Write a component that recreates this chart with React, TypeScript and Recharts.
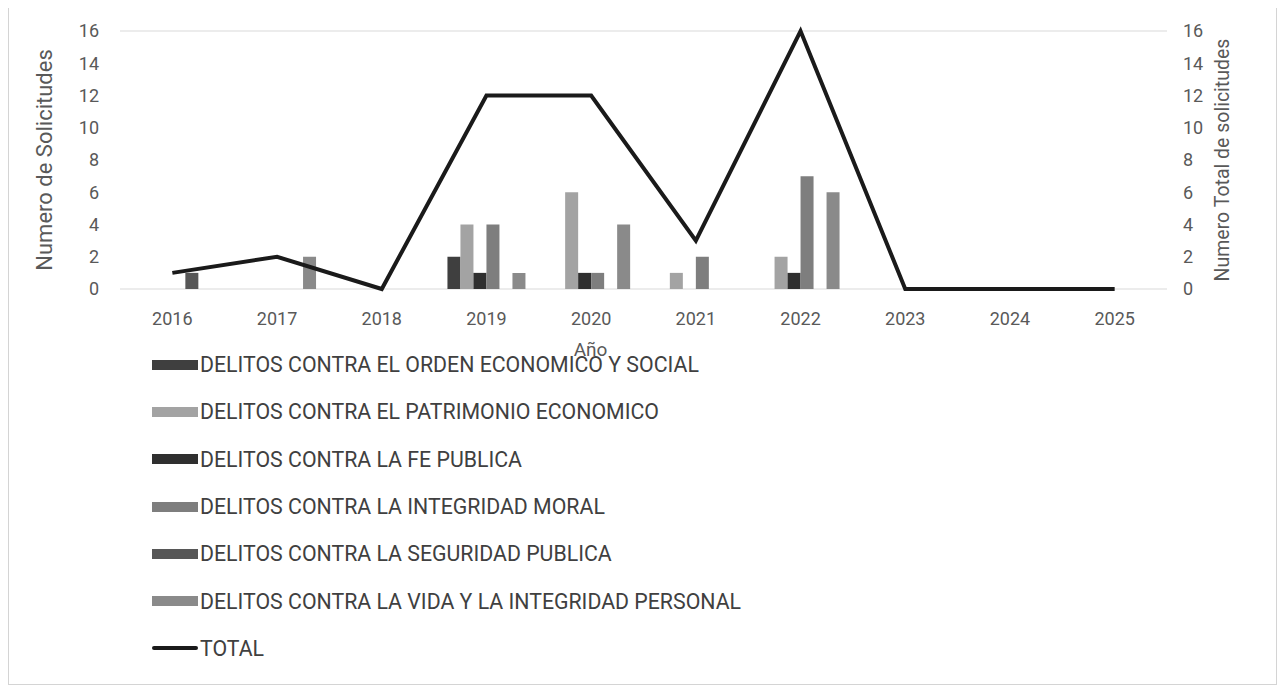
import React from "react";
import {
  ComposedChart, Bar, Line, XAxis, YAxis, CartesianGrid, Legend,
} from "recharts";

const years = ["2016", "2017", "2018", "2019", "2020", "2021", "2022", "2023", "2024", "2025"];

const ordenEconomico = [0, 0, 0, 2, 0, 0, 0, 0, 0, 0];
const patrimonio = [0, 0, 0, 4, 6, 1, 2, 0, 0, 0];
const fePublica = [0, 0, 0, 1, 1, 0, 1, 0, 0, 0];
const integridadMoral = [0, 0, 0, 4, 1, 2, 7, 0, 0, 0];
const seguridadPublica = [1, 0, 0, 0, 0, 0, 0, 0, 0, 0];
const vidaIntegridad = [0, 2, 0, 1, 4, 0, 6, 0, 0, 0];
const total = [1, 2, 0, 12, 12, 3, 16, 0, 0, 0];

const yTicks = [0, 2, 4, 6, 8, 10, 12, 14, 16];

const series = [
  { key: "orden", name: "DELITOS CONTRA EL ORDEN ECONOMICO Y SOCIAL", values: ordenEconomico, color: "#3f3f3f" },
  { key: "patrimonio", name: "DELITOS CONTRA EL PATRIMONIO ECONOMICO", values: patrimonio, color: "#a3a3a3" },
  { key: "fe", name: "DELITOS CONTRA LA FE PUBLICA", values: fePublica, color: "#2f2f2f" },
  { key: "moral", name: "DELITOS CONTRA LA INTEGRIDAD MORAL", values: integridadMoral, color: "#7e7e7e" },
  { key: "seguridad", name: "DELITOS CONTRA LA SEGURIDAD PUBLICA", values: seguridadPublica, color: "#575757" },
  { key: "vida", name: "DELITOS CONTRA LA VIDA Y LA INTEGRIDAD PERSONAL", values: vidaIntegridad, color: "#8a8a8a" },
];

const data = years.map((year, i) => {
  const row: Record<string, string | number> = { year, total: total[i] };
  series.forEach((s) => { row[s.key] = s.values[i]; });
  return row;
});

const tickStyle = { fontSize: 18, fill: "#595959" };

function LegendList({ payload }: any) {
  return (
    <div style={{ height: 331 }}>
      {(payload || []).map((entry: any) => (
        <div
          key={entry.value}
          style={{ height: 47.3, display: "flex", alignItems: "center", fontSize: 21.3, color: "#404040" }}
        >
          {entry.type === "line" ? (
            <span style={{ width: 46, height: 4, background: entry.color, borderRadius: 2, marginRight: 2 }} />
          ) : (
            <span style={{ width: 46, height: 10, background: entry.color, marginRight: 2 }} />
          )}
          <span>{entry.value}</span>
        </div>
      ))}
    </div>
  );
}

export default function App() {
  return (
    <div
      style={{
        width: 1269,
        height: 680,
        marginTop: -3,
        border: "1px solid #d4d4d4",
        boxSizing: "border-box",
        fontFamily: "Roboto, sans-serif",
      }}
    >
      <ComposedChart
        width={1267}
        height={678}
        data={data}
        margin={{ top: 25, right: 0, left: 0, bottom: 24 }}
        barCategoryGap="12.75%"
        barGap={0}
      >
        <CartesianGrid vertical={false} stroke="#d9d9d9" />
        <XAxis
          dataKey="year"
          axisLine={false}
          tickLine={false}
          tick={tickStyle}
          tickMargin={17}
          height={40}
          label={{ value: "Año", position: "bottom", offset: 14, dx: -53, style: { fontSize: 19, fill: "#595959" } }}
        />
        <YAxis
          yAxisId="left"
          domain={[0, 16]}
          ticks={yTicks}
          axisLine={false}
          tickLine={false}
          tick={tickStyle}
          tickMargin={15}
          width={111}
          label={{ value: "Numero de Solicitudes", angle: -90, position: "insideLeft", offset: 35, style: { textAnchor: "middle", fontSize: 22, fill: "#595959" } }}
        />
        <YAxis
          yAxisId="right"
          orientation="right"
          domain={[0, 16]}
          ticks={yTicks}
          axisLine={false}
          tickLine={false}
          tick={tickStyle}
          tickMargin={10}
          width={109}
          label={{ value: "Numero Total de solicitudes", angle: -90, position: "insideRight", offset: 54, style: { textAnchor: "middle", fontSize: 19.5, fill: "#595959" } }}
        />
        <Legend
          layout="horizontal"
          verticalAlign="bottom"
          align="left"
          content={<LegendList />}
          wrapperStyle={{ top: 335, left: 143, bottom: "auto", width: 800 }}
        />
        {series.map((s) => (
          <Bar
            key={s.key}
            yAxisId="left"
            dataKey={s.key}
            name={s.name}
            fill={s.color}
            isAnimationActive={false}
          />
        ))}
        <Line
          yAxisId="right"
          type="linear"
          dataKey="total"
          name="TOTAL"
          stroke="#1a1a1a"
          strokeWidth={4}
          dot={false}
          activeDot={false}
          isAnimationActive={false}
        />
      </ComposedChart>
    </div>
  );
}
